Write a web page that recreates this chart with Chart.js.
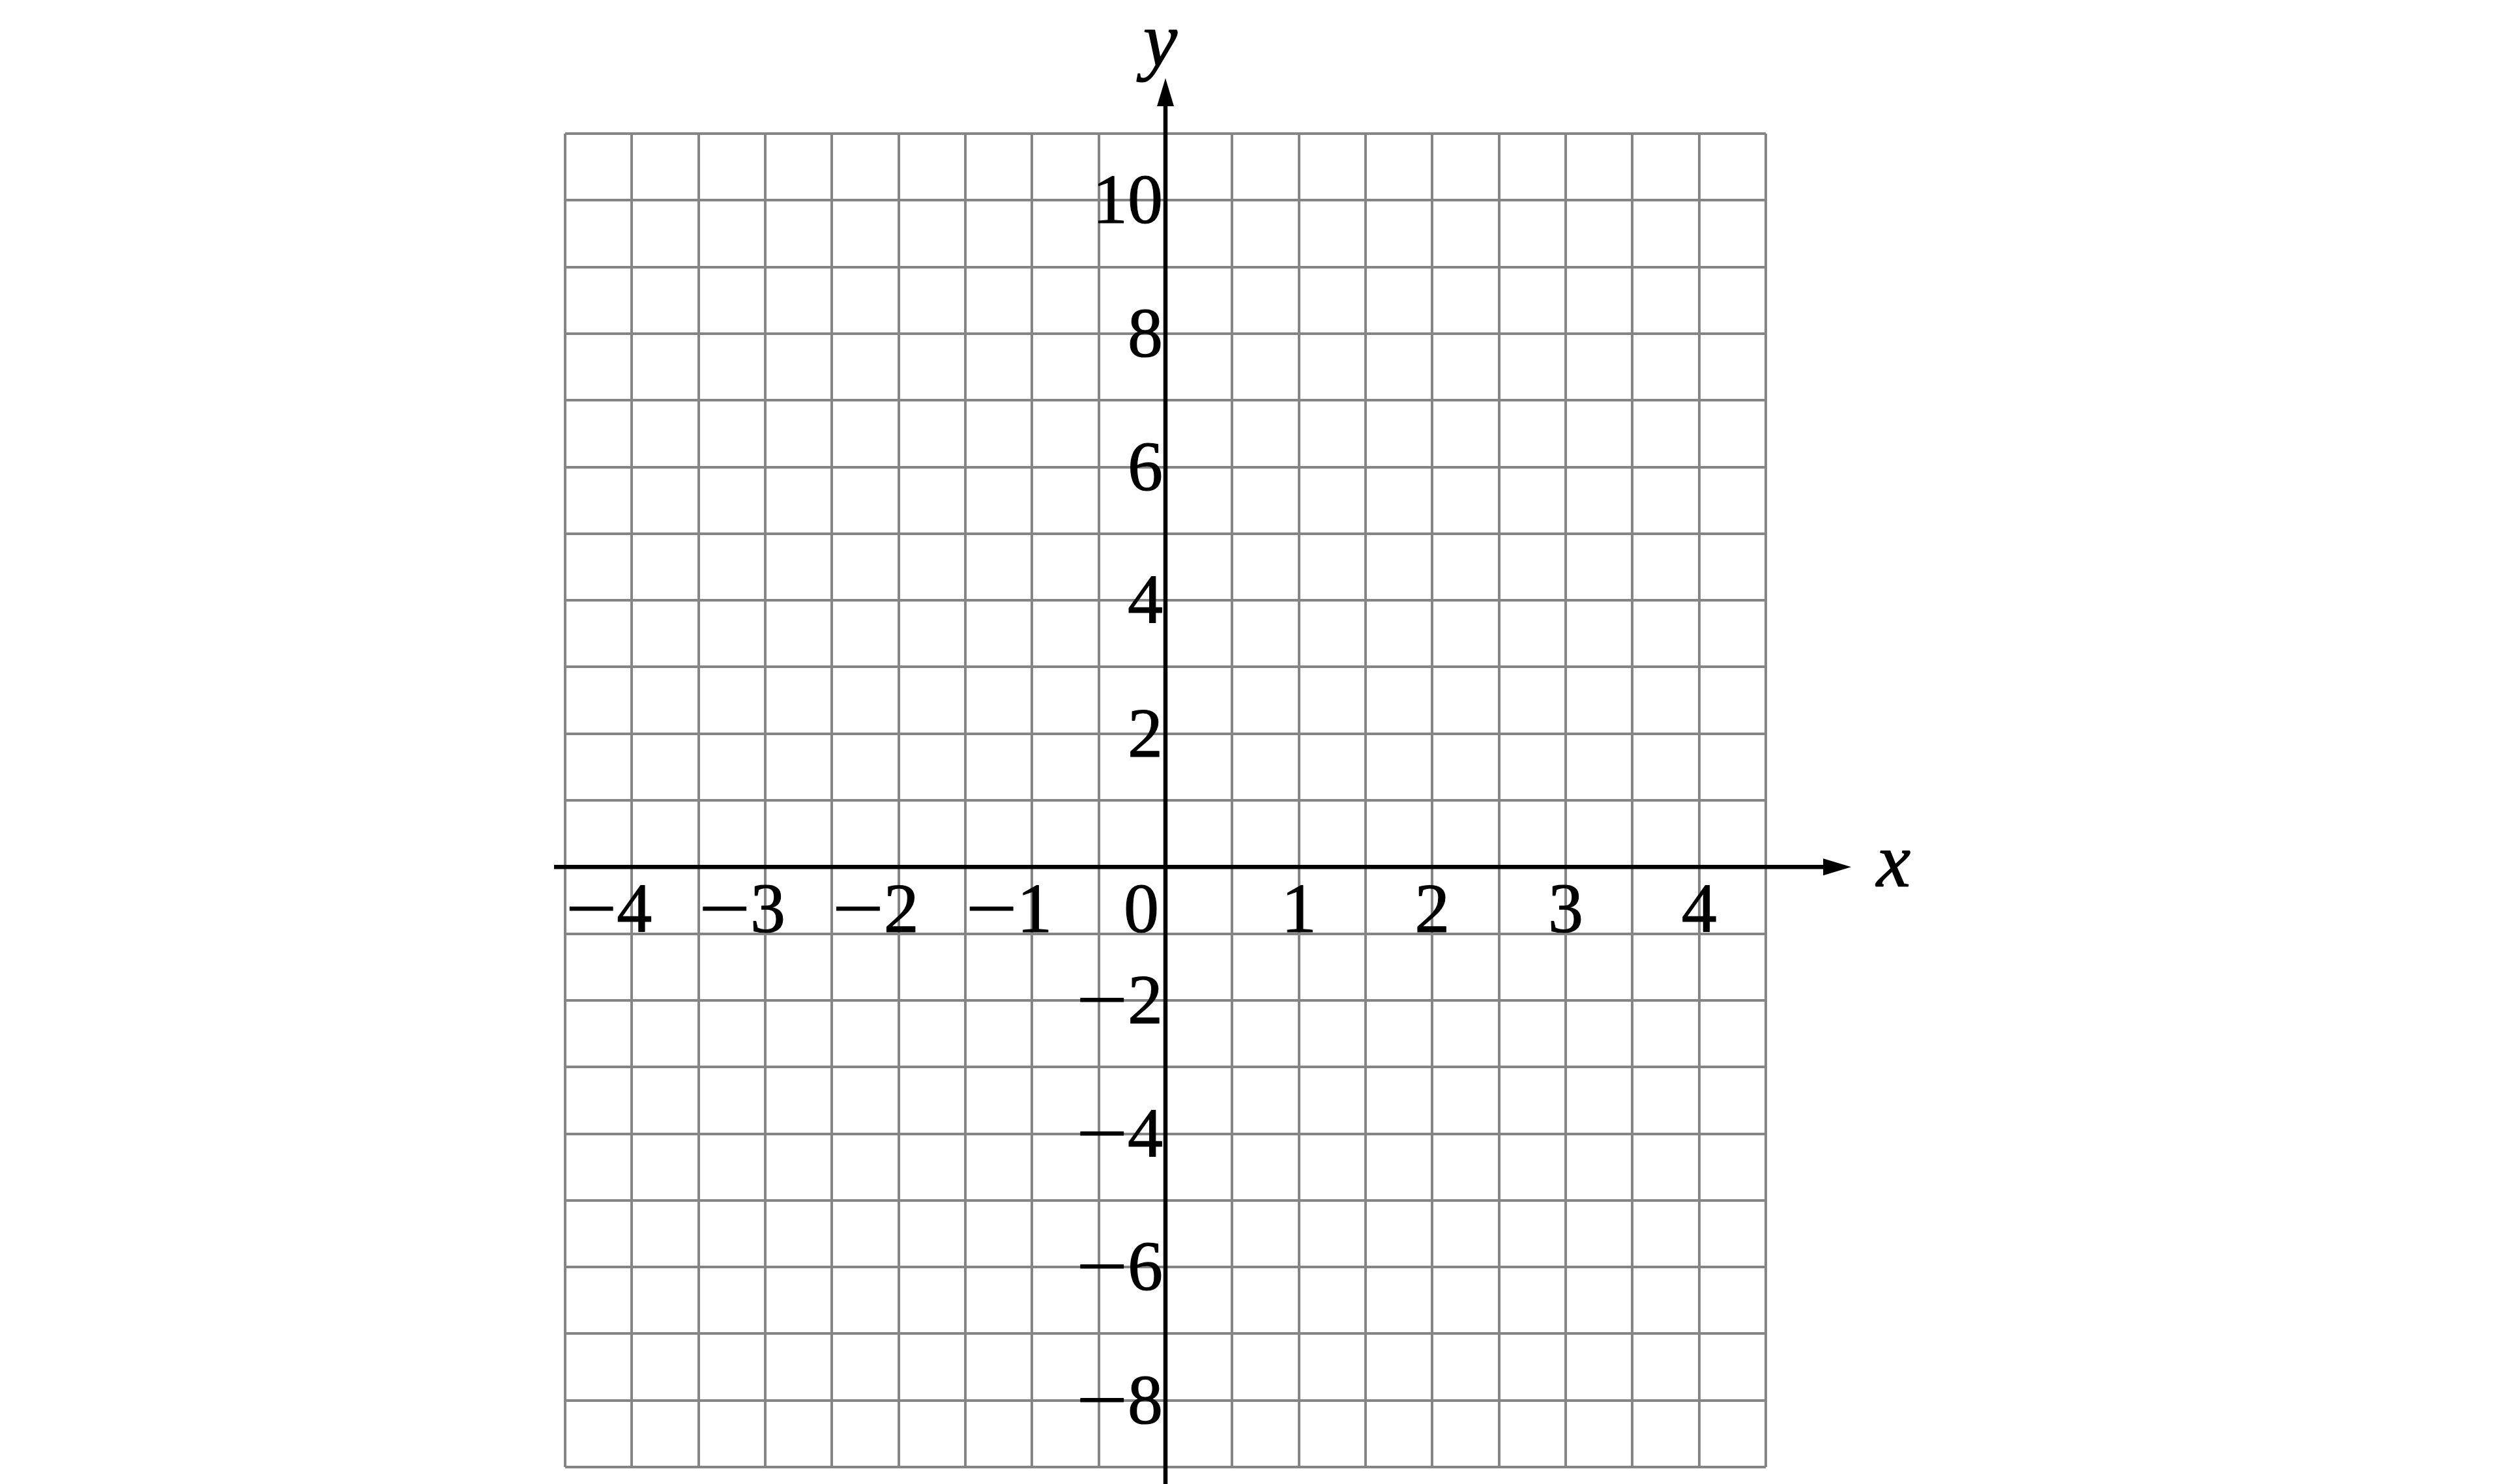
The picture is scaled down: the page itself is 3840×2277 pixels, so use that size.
<!DOCTYPE html>
<html>
<head>
<meta charset="utf-8">
<title>Coordinate grid</title>
<script src="https://cdn.jsdelivr.net/npm/chart.js@4.4.0/dist/chart.umd.min.js"></script>
<style>
    html, body { margin: 0; padding: 0; background: #fff; overflow: hidden; }
    #wrap { width: 3840px; height: 2277px; }
</style>
</head>
<body>
<div id="wrap"><canvas id="grid"></canvas></div>
<script>
// axis ranges and grid spacing
var xRange = [-4.5, 4.5];
var yRange = [-9, 11];
var xStep = 0.5;
var yStep = 1;

// tick labels shown on the axes
var xTickLabels = [-4, -3, -2, -1, 0, 1, 2, 3, 4];
var yTickLabels = [10, 8, 6, 4, 2, -2, -4, -6, -8];

// axis names
var xAxisName = 'x';
var yAxisName = 'y';

var MINUS = '\u2212';
var minusStretch = 1.3;

// text a bit heavier than plain Liberation Serif, closer to the reference
function paint(ctx, text, x, y) {
    ctx.fillText(text, x, y);
    ctx.strokeText(text, x, y);
}

// draws a number, the minus sign a little wider like in the reference
// align: 'right' -> x is right edge, 'center' -> x is centre
function drawNumber(ctx, v, x, y, align) {
    var digits = String(Math.abs(v));
    var digW = ctx.measureText(digits).width;
    var minusW = v < 0 ? ctx.measureText(MINUS).width * minusStretch : 0;
    var total = minusW + digW;
    var left = align === 'right' ? x - total : x - total / 2;
    ctx.textAlign = 'left';
    if (v < 0) {
        ctx.save();
        ctx.translate(left, y);
        ctx.scale(minusStretch, 1);
        paint(ctx, MINUS, 0, 0);
        ctx.restore();
    }
    paint(ctx, digits, left + minusW, y);
}

// draws the two axes with arrows and the labels at the origin
var axesPlugin = {
    id: 'axes',
    afterDraw: function (chart) {
        var ctx = chart.ctx;
        var area = chart.chartArea;
        var xs = chart.scales.x;
        var ys = chart.scales.y;
        var ox = xs.getPixelForValue(0);
        var oy = ys.getPixelForValue(0);

        ctx.save();
        ctx.strokeStyle = '#000';
        ctx.fillStyle = '#000';
        ctx.lineWidth = 6.5;

        // x axis
        ctx.beginPath();
        ctx.moveTo(area.left - 17, oy);
        ctx.lineTo(area.right + 92, oy);
        ctx.stroke();
        ctx.beginPath();
        ctx.moveTo(area.right + 131, oy);
        ctx.lineTo(area.right + 88, oy - 13);
        ctx.lineTo(area.right + 88, oy + 13);
        ctx.closePath();
        ctx.fill();

        // y axis
        ctx.beginPath();
        ctx.moveTo(ox, chart.height);
        ctx.lineTo(ox, area.top - 46);
        ctx.stroke();
        ctx.beginPath();
        ctx.moveTo(ox, area.top - 85);
        ctx.lineTo(ox - 13, area.top - 42);
        ctx.lineTo(ox + 13, area.top - 42);
        ctx.closePath();
        ctx.fill();

        // tick labels
        ctx.font = '108px "Liberation Serif", serif';
        ctx.lineWidth = 1.2;
        ctx.lineJoin = 'round';
        ctx.textBaseline = 'alphabetic';
        xTickLabels.forEach(function (v) {
            var px = xs.getPixelForValue(v);
            if (v === 0) {
                drawNumber(ctx, v, ox - 10, oy + 100, 'right');
            } else if (v < 0) {
                var half = ctx.measureText(String(Math.abs(v))).width / 2;
                drawNumber(ctx, v, px + half + 4, oy + 100, 'right');
            } else {
                drawNumber(ctx, v, px, oy + 100, 'center');
            }
        });
        yTickLabels.forEach(function (v) {
            var py = ys.getPixelForValue(v);
            drawNumber(ctx, v, ox - 4, py + 35, 'right');
        });

        // axis names
        ctx.font = 'italic 118px "Liberation Serif", serif';
        ctx.lineWidth = 1.2;
        ctx.textAlign = 'center';
        paint(ctx, xAxisName, area.right + 196, oy + 30);
        paint(ctx, yAxisName, ox - 8, area.top - 104);
        ctx.restore();
    }
};

var gridStyle = {
    color: '#858585',
    lineWidth: 4,
    drawTicks: false
};

var ctx = document.getElementById('grid').getContext('2d');
var chart = new Chart(ctx, {
    type: 'scatter',
    data: {
        datasets: [{ data: [] }]
    },
    options: {
        animation: false,
        responsive: true,
        maintainAspectRatio: false,
        layout: {
            padding: { left: 867, right: 1131, top: 205, bottom: 26 }
        },
        plugins: {
            legend: { display: false },
            tooltip: { enabled: false }
        },
        scales: {
            x: {
                type: 'linear',
                min: xRange[0],
                max: xRange[1],
                ticks: { display: false, stepSize: xStep, maxTicksLimit: 100 },
                grid: gridStyle,
                border: { display: false }
            },
            y: {
                type: 'linear',
                min: yRange[0],
                max: yRange[1],
                ticks: { display: false, stepSize: yStep, maxTicksLimit: 100 },
                grid: gridStyle,
                border: { display: false }
            }
        }
    },
    plugins: [axesPlugin]
});
</script>
</body>
</html>
